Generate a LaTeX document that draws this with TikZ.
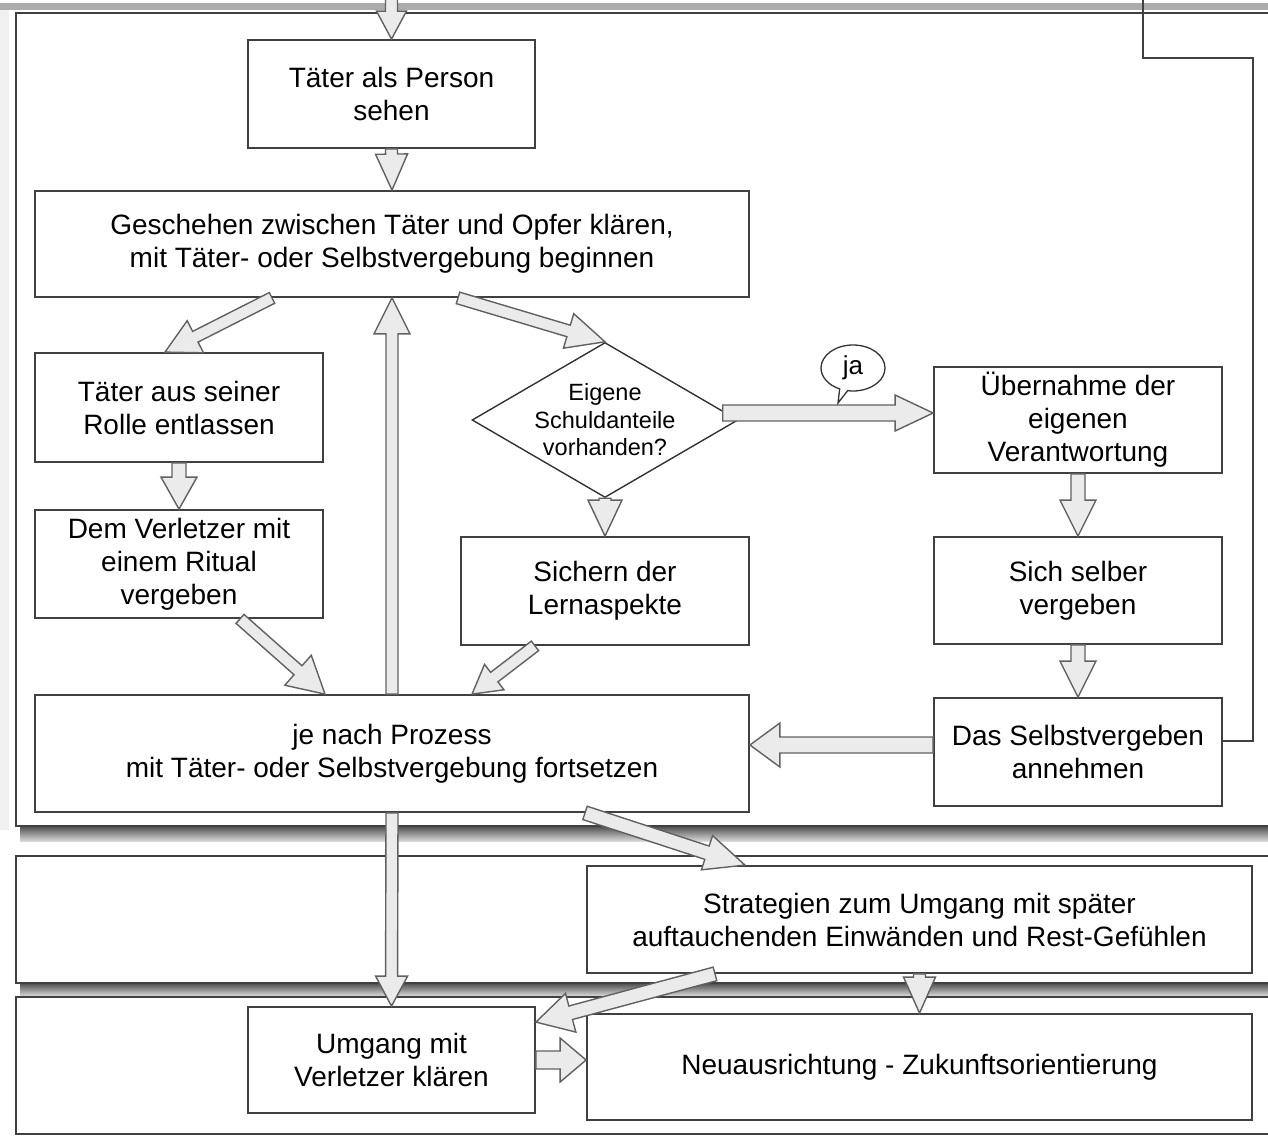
\documentclass[tikz,border=0pt]{standalone}
\usepackage{fontspec}
\setmainfont{Liberation Sans}
\usetikzlibrary{calc,shapes.geometric,shapes.callouts}
\newcommand\blockarrow[5]{%
  \coordinate (ba) at (#1);
  \coordinate (bb) at (#2);
  \coordinate (bh) at ($(bb)!#5pt!(ba)$);
  \draw[blockarrowstyle] ($(ba)!#3pt!90:(bb)$) -- ($(bh)!#3pt!-90:(ba)$) -- ($(bh)!#4pt!-90:(ba)$) -- (bb) -- ($(bh)!#4pt!90:(ba)$) -- ($(bh)!#3pt!90:(ba)$) -- ($(ba)!#3pt!-90:(bb)$) -- cycle;
}
\begin{document}
\begin{tikzpicture}[x=1pt,y=-1pt,
  box/.style={draw=black!75,line width=1.8pt,fill=white,inner sep=0pt,align=center,font=\fontsize{28}{33}\selectfont},
  blockarrowstyle/.style={fill=gray!16,draw=black!62,line width=1.4pt,line join=miter},
  frame/.style={draw=black!75,line width=2.5pt,fill=white},
  shade/.style={top color=black!70,bottom color=black!15,draw=none}]

\useasboundingbox (0,0) rectangle (1268,1137);
\clip (0,0) rectangle (1268,1137);

% frames
\fill[gray!65] (0,3) rectangle (1268,10);
\fill[gray!12] (0,10) rectangle (9,830);
\fill[shade] (20,826) rectangle (1290,841);
\draw[frame] (16,13) rectangle (1290,826);
\fill[shade] (20,983) rectangle (1290,996);
\draw[frame] (16,856) rectangle (1290,983);
\draw[frame] (16,997) rectangle (1290,1134);

% nodes
\node[box,minimum width=287,minimum height=108] (A) at (391.5,94) {Täter als Person\\sehen};
\node[box,minimum width=714,minimum height=106] (B) at (392,244) {Geschehen zwischen Täter und Opfer klären,\\mit Täter- oder Selbstvergebung beginnen};
\node[box,minimum width=288,minimum height=109] (C) at (179,407.5) {Täter aus seiner\\Rolle entlassen};
\node[box,minimum width=288,minimum height=108] (D) at (179,564) {Dem Verletzer mit\\einem Ritual\\vergeben};
\node[draw=black!80,line width=1.4pt,diamond,aspect=1.72,inner sep=0pt,minimum width=266,minimum height=155,align=center,font=\fontsize{23.5}{27.5}\selectfont,fill=white] (E) at (605,420) {Eigene\\Schuldanteile\\vorhanden?};
\node[box,minimum width=288,minimum height=108] (F) at (605,591) {Sichern der\\Lernaspekte};
\node[box,minimum width=288,minimum height=106] (G) at (1078,420) {Übernahme der\\eigenen\\Verantwortung};
\node[box,minimum width=288,minimum height=107] (H) at (1078,590.5) {Sich selber\\vergeben};
\node[box,minimum width=288,minimum height=108] (I) at (1078,752) {Das Selbstvergeben\\annehmen};
\node[box,minimum width=714,minimum height=117] (J) at (392,753.5) {je nach Prozess\\mit Täter- oder Selbstvergebung fortsetzen};
\node[box,minimum width=665,minimum height=107] (K) at (919.5,919.5) {Strategien zum Umgang mit später\\auftauchenden Einwänden und Rest-Gefühlen};
\node[box,minimum width=287,minimum height=106] (L) at (391.5,1060) {Umgang mit\\Verletzer klären};
\node[box,minimum width=665,minimum height=106] (M) at (919.5,1067) {Neuausrichtung - Zukunftsorientierung};

% connectors
\coordinate (topin) at (391.5,-8);
\blockarrow{topin}{A.north}{6}{15}{28}
\blockarrow{A.south}{B.north}{6}{16}{36}
\blockarrow{[xshift=-120pt]B.south}{[xshift=-14pt]C.north}{6}{18}{34}
\blockarrow{[xshift=66pt]B.south}{E.north}{6}{18}{38}
\blockarrow{C.south}{D.north}{7}{18}{32}
\blockarrow{[xshift=61pt]D.south}{[xshift=-67pt]J.north}{6}{20}{36}
\blockarrow{J.north}{B.south}{6}{18}{36}
\blockarrow{E.south}{F.north}{6}{17}{36}
\blockarrow{[xshift=-16pt,yshift=7pt]E.east}{[yshift=7pt]G.west}{8}{18}{38}
\blockarrow{[xshift=-70pt]F.south}{[xshift=80pt]J.north}{6}{16}{28}
\blockarrow{G.south}{H.north}{7}{18}{36}
\blockarrow{H.south}{I.north}{7}{18}{36}
\blockarrow{[yshift=7pt]I.west}{[yshift=8.5pt]J.east}{8}{22}{30}
\blockarrow{[xshift=193pt]J.south}{[xshift=-174.5pt]K.north}{7}{18}{40}
\blockarrow{J.south}{L.north}{6}{16}{30}
\blockarrow{[xshift=-204.5pt]K.south}{[yshift=-16pt]L.north east}{7}{20}{36}
\blockarrow{K.south}{M.north}{6}{16}{36}
\blockarrow{L.east}{[yshift=7pt]M.west}{9}{22}{26}

\node[ellipse callout,draw=black!80,line width=1.3pt,fill=white,minimum width=64,minimum height=46,inner sep=0pt,callout absolute pointer={(838,403)},font=\fontsize{26}{30}\selectfont] (ja) at (853,368) {ja};

\coordinate (topend) at (1143,0);
\draw[black!75,line width=1.6pt] ([yshift=11pt]I.east) -- ++(30,0) |- (1143,58) -- (topend);
\end{tikzpicture}
\end{document}
